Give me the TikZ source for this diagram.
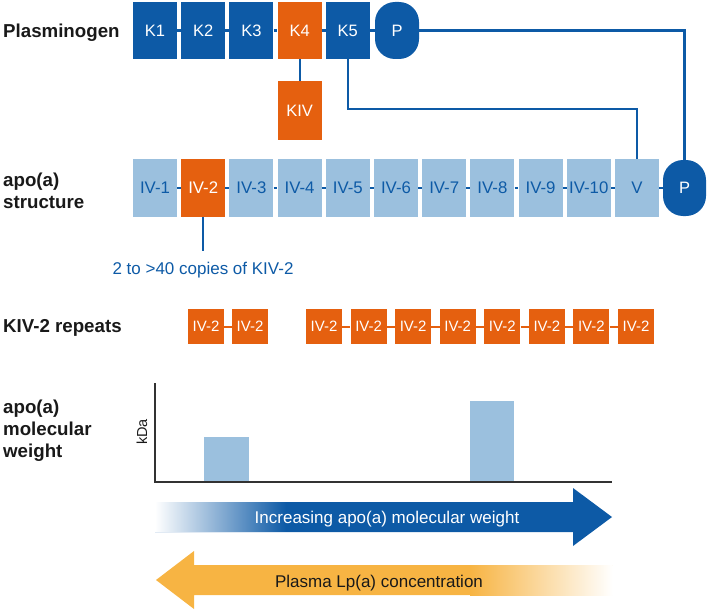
\documentclass[tikz,border=0pt]{standalone}
\usepackage{fontspec}
\setmainfont{Liberation Sans}
\definecolor{dblue}{RGB}{13,90,166}
\definecolor{lblue}{RGB}{155,192,222}
\definecolor{kor}{RGB}{229,96,15}
\definecolor{yor}{RGB}{247,180,67}
\definecolor{axisgray}{RGB}{50,50,50}
\definecolor{labelblack}{RGB}{25,25,25}
\begin{document}
\begin{tikzpicture}[x=1pt,y=-1pt,
  lbl/.style={align=left, text=labelblack, inner sep=0pt,
    font=\bfseries\fontsize{18.7}{22}\selectfont},
  kbox/.style={fill=dblue, text=white, minimum width=44pt, minimum height=57pt,
    inner sep=0pt, font=\fontsize{16.5}{16.5}\selectfont},
  korbox/.style={kbox, fill=kor},
  pcaps/.style={kbox, rounded corners=20pt},
  abox/.style={fill=lblue, text=dblue, minimum width=44pt, minimum height=58pt,
    inner sep=0pt, font=\fontsize{16.8}{16.8}\selectfont},
  aorbox/.style={abox, fill=kor, text=white},
  apcaps/.style={kbox, minimum width=43pt, minimum height=56pt, rounded corners=20pt},
  rbox/.style={fill=kor, text=white, minimum width=36pt, minimum height=35pt,
    inner sep=0pt, font=\fontsize{15}{15}\selectfont},
  rowlink/.style={draw=dblue, line width=2.5pt},
  replink/.style={draw=kor, line width=2pt},
  conn/.style={draw=dblue, line width=2.2pt},
  axisline/.style={draw=axisgray, line width=1.6pt},
]
\useasboundingbox (0,0) rectangle (709,610);

% ---------- labels ----------
\node[lbl, anchor=base west] (lplas) at (3,37.5) {Plasminogen};
\node[lbl, anchor=north west] (lapo) at (3,173) {apo(a)\\structure};
\node[lbl, anchor=base west] (lrep) at (3,332.5) {KIV-2 repeats};
\node[lbl, anchor=north west] (lmw) at (3,399.5) {apo(a)\\molecular\\weight};

% ---------- plasminogen row ----------
\node[kbox] (k1) at (155,30.5) {K1};
\node[kbox] (k2) at (203.2,30.5) {K2};
\node[kbox] (k3) at (251.4,30.5) {K3};
\node[korbox] (k4) at (299.6,30.5) {K4};
\node[kbox] (k5) at (347.8,30.5) {K5};
\node[pcaps] (pp) at (397,30.5) {P};
\draw[rowlink] (k1.east) -- (k2.west);
\draw[rowlink] (k2.east) -- (k3.west);
\draw[rowlink] (k3.east) -- (k4.west);
\draw[rowlink] (k4.east) -- (k5.west);
\draw[rowlink] (k5.east) -- (pp.west);

\node[korbox, minimum height=59pt] (kiv) at (299.6,110.5) {KIV};
\draw[conn] (k4.south) -- (kiv.north);

% ---------- apo(a) row ----------
\node[abox] (a1) at (155,188) {IV-1};
\node[aorbox] (a2) at (203.2,188) {IV-2};
\node[abox] (a3) at (251.4,188) {IV-3};
\node[abox] (a4) at (299.6,188) {IV-4};
\node[abox] (a5) at (347.8,188) {IV-5};
\node[abox] (a6) at (396,188) {IV-6};
\node[abox] (a7) at (444.2,188) {IV-7};
\node[abox] (a8) at (492.4,188) {IV-8};
\node[abox] (a9) at (540.6,188) {IV-9};
\node[abox] (a10) at (588.8,188) {IV-10};
\node[abox] (av) at (637,188) {V};
\node[apcaps] (ap) at (684.5,188) {P};
\foreach \i/\j in {a1/a2,a2/a3,a3/a4,a4/a5,a5/a6,a6/a7,a7/a8,a8/a9,a9/a10,a10/av,av/ap}
  \draw[rowlink] (\i.east) -- (\j.west);

% ---------- connectors plasminogen -> apo(a) ----------
\coordinate (kbend) at (347.8,109);
\draw[conn] (k5.south) -- (kbend) -| (av.north);
\draw[conn] (pp.east) -| (ap.north);

\coordinate (copiesend) at (203.2,251);
\draw[conn] (a2.south) -- (copiesend);
\node[text=dblue, font=\fontsize{17}{17}\selectfont, inner sep=0pt, anchor=base]
  (copies) at (203,274.5) {2 to >40 copies of KIV-2};

% ---------- KIV-2 repeats ----------
\node[rbox] (r1) at (206,326.5) {IV-2};
\node[rbox] (r2) at (250,326.5) {IV-2};
\node[rbox] (r3) at (324,326.5) {IV-2};
\node[rbox] (r4) at (368.6,326.5) {IV-2};
\node[rbox] (r5) at (413.1,326.5) {IV-2};
\node[rbox] (r6) at (457.7,326.5) {IV-2};
\node[rbox] (r7) at (502.3,326.5) {IV-2};
\node[rbox] (r8) at (546.9,326.5) {IV-2};
\node[rbox] (r9) at (591.4,326.5) {IV-2};
\node[rbox] (r10) at (636,326.5) {IV-2};
\foreach \i/\j in {r1/r2,r3/r4,r4/r5,r5/r6,r6/r7,r7/r8,r8/r9,r9/r10}
  \draw[replink] (\i.east) -- (\j.west);

% ---------- chart ----------
\fill[lblue] (204,437) rectangle (249,482);
\fill[lblue] (470,401) rectangle (514,482);
\coordinate (ytop) at (155,383);
\coordinate (origin) at (155,482);
\coordinate (xend) at (612,482);
\draw[axisline] (ytop) -- (origin) -- (xend);
\node[rotate=90, text=labelblack, font=\fontsize{14.5}{14.5}\selectfont, inner sep=0pt]
  (kda) at (142,432) {kDa};

% ---------- blue arrow ----------
\fill[dblue] (155,502) -- (573,502) -- (573,488) -- (612,517) -- (573,546)
  -- (573,532) -- (155,532) -- cycle;
\shade[left color=white, right color=dblue] (155,502.4) rectangle (286,531.6);
\node[text=white, font=\fontsize{17}{17}\selectfont, inner sep=0pt, anchor=base]
  (inctxt) at (387,523.5) {Increasing apo(a) molecular weight};

% ---------- orange arrow ----------
\fill[yor] (612,565) -- (194,565) -- (194,551) -- (156,580) -- (194,609)
  -- (194,595) -- (612,595) -- cycle;
\shade[left color=yor, right color=white] (470,565) rectangle (612.5,595);
\node[text=labelblack, font=\fontsize{17}{17}\selectfont, inner sep=0pt, anchor=base]
  (plasmatxt) at (379,587) {Plasma Lp(a) concentration};
\end{tikzpicture}
\end{document}
